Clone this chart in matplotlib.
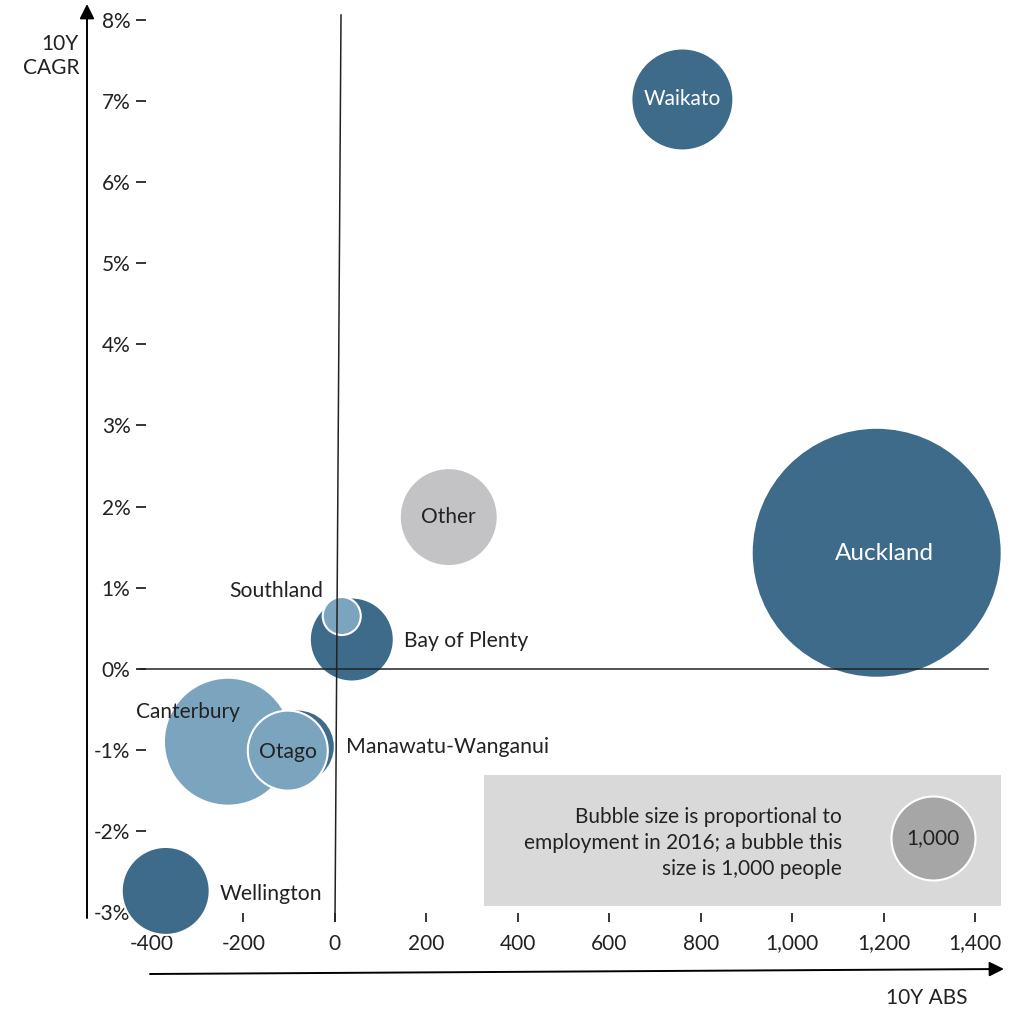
import matplotlib
matplotlib.use("Agg")
import matplotlib.pyplot as plt
from matplotlib.lines import Line2D
from matplotlib.patches import Rectangle

plt.rcParams["font.family"] = ["Lato", "DejaVu Sans"]

# data: region, 10Y absolute change, 10Y CAGR (%), employment 2016
regions = ["Auckland", "Waikato", "Other", "Bay of Plenty", "Southland",
           "Canterbury", "Manawatu-Wanganui", "Otago", "Wellington"]
abs_change = [1185, 760, 249, 37, 15, -234, -81, -103, -370]
cagr = [1.43, 7.02, 1.87, 0.36, 0.65, -0.90, -0.96, -1.01, -2.74]
employment = [8860, 1475, 1360, 1000, 205, 2320, 776, 907, 1097]
group = ["dark", "dark", "grey", "dark", "light", "light", "dark", "light", "dark"]

x_ticks = [-400, -200, 0, 200, 400, 600, 800, 1000, 1200, 1400]
x_tick_labels = ["-400", "-200", "0", "200", "400", "600", "800", "1,000", "1,200", "1,400"]
y_ticks = [-3, -2, -1, 0, 1, 2, 3, 4, 5, 6, 7, 8]
y_tick_labels = ["%d%%" % v for v in y_ticks]
legend_people = 1000

colors = {"dark": "#3e6b8a", "light": "#7ba4bf", "grey": "#c3c3c5"}
txt = "#222222"
# label placement: offset in pixels from bubble centre, alignment, text colour, size
label_style = {
    "Auckland": ((8, -1), "center", "white", 17.5),
    "Waikato": ((0, 0), "center", "white", 15),
    "Other": ((0, 0), "center", txt, 15),
    "Bay of Plenty": ((52, -1), "left", txt, 15.2),
    "Southland": ((-19, 25), "right", txt, 15.2),
    "Canterbury": ((-92, 30), "left", txt, 15),
    "Manawatu-Wanganui": ((48, 0), "left", txt, 15.3),
    "Otago": ((0, -1), "center", txt, 15.2),
    "Wellington": ((54, -3), "left", txt, 15.2),
}

W, H = 1027, 1010
fig = plt.figure(figsize=(W / 100, H / 100), dpi=100)
ax = fig.add_axes([152 / W, 1 - 912 / H, 823 / W, 892 / H])
ax.set_xlim(-400, 1400)
ax.set_ylim(-3, 8)
ax.patch.set_alpha(0)

for s in ["top", "right"]:
    ax.spines[s].set_visible(False)
ax.spines["left"].set_position(("outward", 4))
ax.spines["bottom"].set_position(("outward", 1))
ax.spines["left"].set_color("none")
ax.spines["bottom"].set_color("none")

ax.set_xticks(x_ticks, x_tick_labels)
ax.set_yticks(y_ticks, y_tick_labels)
ax.tick_params(axis="y", direction="out", length=7.2, width=1.1, pad=4.3,
               labelsize=15, colors="black", labelcolor=txt)
ax.tick_params(axis="x", direction="out", length=6.5, width=1.1, pad=8,
               labelsize=15, colors="black", labelcolor=txt)

# size legend box (behind everything in the axes)
ax.add_patch(Rectangle((484 / W, 1 - 906 / H), 517 / W, 131 / H, transform=fig.transFigure,
                       facecolor="#d9d9d9", edgecolor="none", zorder=0.5, clip_on=False))

# bubble size: a 1,000-person bubble has 42 px radius
k = (2 * 42 * 0.72) ** 2 / legend_people
ax.scatter(abs_change, cagr, s=[e * k for e in employment],
           c=[colors[g] for g in group], edgecolors="white", linewidths=1.5,
           zorder=3, clip_on=False)

for name, x, y in zip(regions, abs_change, cagr):
    off, ha, col, fs = label_style[name]
    ax.annotate(name, (x, y), xytext=off, textcoords="offset pixels",
                ha=ha, va="center", color=col, fontsize=fs, zorder=5)

# reference lines
ax.plot([-426, 1428], [0, 0], color=txt, lw=1.1, zorder=4, clip_on=False)
fig.add_artist(Line2D([341 / W, 335 / W], [1 - 15 / H, 1 - 921 / H],
                      color=txt, lw=1.1, zorder=4))

# axis arrows
ax.annotate("", xy=(87 / W, 1 - 4 / H), xytext=(87 / W, 1 - 918 / H),
            xycoords="figure fraction", textcoords="figure fraction",
            arrowprops=dict(arrowstyle="-|>", lw=1.4, color="black", mutation_scale=22,
                            shrinkA=0, shrinkB=0))
ax.annotate("", xy=(1004 / W, 1 - 969 / H), xytext=(150 / W, 1 - 974 / H),
            xycoords="figure fraction", textcoords="figure fraction",
            arrowprops=dict(arrowstyle="-|>", lw=1.4, color="black", mutation_scale=22,
                            shrinkA=0, shrinkB=0))
fig.text(79 / W, 1 - 56 / H, "10Y\nCAGR", ha="right", va="center", fontsize=15,
         color=txt, linespacing=1.3)
fig.text(927 / W, 1 - 998 / H, "10Y ABS", ha="center", va="center", fontsize=15,
         color=txt)

ax.text(842 / W, 1 - 843 / H,
        "Bubble size is proportional to\nemployment in 2016; a bubble this\nsize is 1,000 people",
        transform=fig.transFigure, ha="right", va="center", fontsize=15, color=txt,
        linespacing=1.4, zorder=2)
lx, ly = (933 - 152) / 823, (912 - 838) / 892
ax.scatter([lx], [ly], s=[legend_people * k], transform=ax.transAxes, c="#a6a6a6",
           edgecolors="white", linewidths=1.5, zorder=3, clip_on=False)
ax.text(lx, ly, "{:,}".format(legend_people), transform=ax.transAxes, ha="center",
        va="center", fontsize=15, color=txt, zorder=5)

fig.savefig("out.png", dpi=100)
